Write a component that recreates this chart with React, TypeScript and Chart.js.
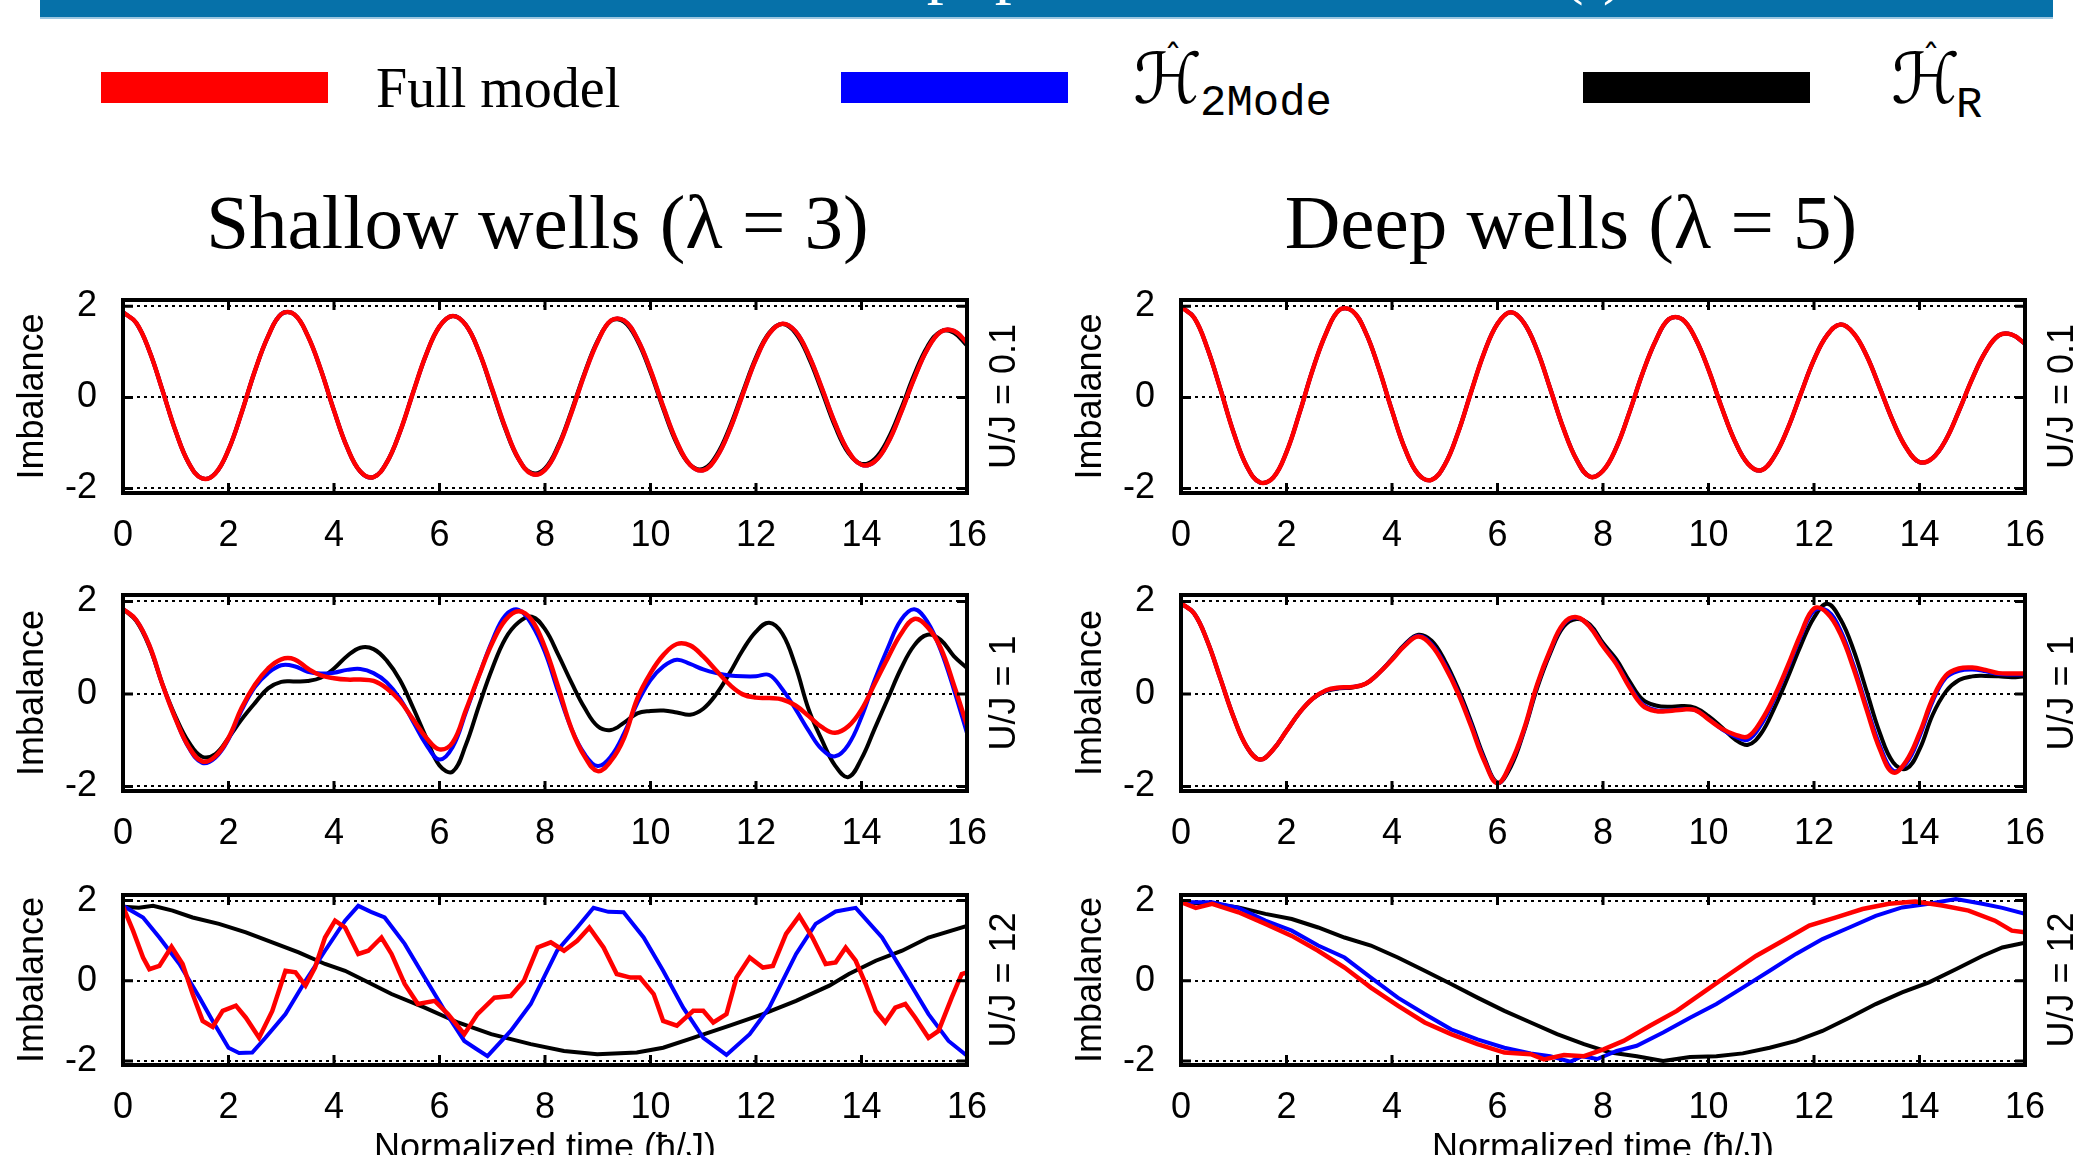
import React, { useEffect, useRef } from 'react';
import { Chart, registerables } from 'chart.js';
Chart.register(...registerables);
Chart.defaults.font.family = "'Liberation Sans', Arial, sans-serif";

// ---------- data ----------
const timeGrid = [0, 0.25, 0.5, 0.75, 1, 1.25, 1.5, 1.75, 2, 2.25, 2.5, 2.75, 3, 3.25, 3.5, 3.75, 4, 4.25, 4.5, 4.75, 5, 5.25, 5.5, 5.75, 6, 6.25, 6.5, 6.75, 7, 7.25, 7.5, 7.75, 8, 8.25, 8.5, 8.75, 9, 9.25, 9.5, 9.75, 10, 10.25, 10.5, 10.75, 11, 11.25, 11.5, 11.75, 12, 12.25, 12.5, 12.75, 13, 13.25, 13.5, 13.75, 14, 14.25, 14.5, 14.75, 15, 15.25, 15.5, 15.75, 16];
const xTickValues = [0, 2, 4, 6, 8, 10, 12, 14, 16];
const yTickValues = [-2, 0, 2];

const seriesNames = ['Full model', 'H2Mode', 'HR'];
const seriesColors = ['#ff0000', '#0000ff', '#000000'];

// Shallow wells, U/J = 0.1
const shallow01Full = [1.87, 1.64, 1.02, 0.15, -0.75, -1.45, -1.78, -1.67, -1.15, -0.33, 0.58, 1.34, 1.83, 1.82, 1.36, 0.61, -0.29, -1.10, -1.63, -1.75, -1.43, -0.76, 0.11, 0.95, 1.56, 1.79, 1.59, 1.00, 0.18, -0.67, -1.35, -1.68, -1.59, -1.10, -0.34, 0.51, 1.23, 1.69, 1.69, 1.29, 0.60, -0.23, -0.98, -1.48, -1.60, -1.32, -0.72, 0.07, 0.84, 1.40, 1.62, 1.45, 0.93, 0.20, -0.57, -1.18, -1.48, -1.41, -1.00, -0.33, 0.42, 1.06, 1.44, 1.46, 1.20];
const shallow01TwoMode = [1.87, 1.64, 1.02, 0.15, -0.75, -1.45, -1.78, -1.67, -1.15, -0.33, 0.58, 1.34, 1.83, 1.82, 1.36, 0.61, -0.29, -1.10, -1.63, -1.75, -1.43, -0.76, 0.11, 0.95, 1.56, 1.79, 1.59, 1.00, 0.18, -0.67, -1.35, -1.68, -1.59, -1.10, -0.34, 0.51, 1.23, 1.69, 1.69, 1.29, 0.60, -0.23, -0.98, -1.48, -1.60, -1.32, -0.72, 0.07, 0.84, 1.40, 1.62, 1.45, 0.93, 0.20, -0.57, -1.18, -1.48, -1.41, -1.00, -0.33, 0.42, 1.06, 1.44, 1.46, 1.20];
const shallow01R = [1.87, 1.64, 1.02, 0.15, -0.75, -1.45, -1.78, -1.67, -1.15, -0.33, 0.58, 1.34, 1.83, 1.82, 1.36, 0.61, -0.29, -1.10, -1.63, -1.75, -1.43, -0.76, 0.11, 0.95, 1.56, 1.79, 1.59, 1.00, 0.15, -0.70, -1.36, -1.66, -1.56, -1.06, -0.30, 0.54, 1.25, 1.68, 1.66, 1.25, 0.55, -0.28, -1.02, -1.48, -1.57, -1.27, -0.66, 0.12, 0.88, 1.42, 1.61, 1.41, 0.87, 0.13, -0.64, -1.22, -1.46, -1.35, -0.92, -0.25, 0.50, 1.12, 1.45, 1.42, 1.14];

// Deep wells, U/J = 0.1
const deep01Full = [1.99, 1.75, 1.08, 0.17, -0.78, -1.52, -1.87, -1.76, -1.20, -0.33, 0.62, 1.41, 1.92, 1.90, 1.43, 0.64, -0.29, -1.14, -1.69, -1.81, -1.48, -0.78, 0.12, 0.99, 1.62, 1.87, 1.64, 1.04, 0.19, -0.68, -1.37, -1.74, -1.61, -1.11, -0.33, 0.53, 1.25, 1.72, 1.72, 1.30, 0.61, -0.22, -0.96, -1.46, -1.60, -1.29, -0.69, 0.08, 0.83, 1.37, 1.60, 1.41, 0.91, 0.20, -0.53, -1.11, -1.42, -1.33, -0.93, -0.29, 0.41, 1.00, 1.36, 1.38, 1.18];
const deep01TwoMode = [1.99, 1.75, 1.08, 0.17, -0.78, -1.52, -1.87, -1.76, -1.20, -0.33, 0.62, 1.41, 1.92, 1.90, 1.43, 0.64, -0.29, -1.14, -1.69, -1.81, -1.48, -0.78, 0.12, 0.99, 1.62, 1.87, 1.64, 1.04, 0.19, -0.68, -1.37, -1.74, -1.61, -1.11, -0.33, 0.53, 1.25, 1.72, 1.72, 1.30, 0.61, -0.22, -0.96, -1.46, -1.60, -1.29, -0.69, 0.08, 0.83, 1.37, 1.60, 1.41, 0.91, 0.20, -0.53, -1.11, -1.42, -1.33, -0.93, -0.29, 0.41, 1.00, 1.36, 1.38, 1.18];
const deep01R = [1.99, 1.75, 1.08, 0.17, -0.78, -1.52, -1.87, -1.76, -1.20, -0.33, 0.62, 1.41, 1.92, 1.90, 1.43, 0.64, -0.29, -1.14, -1.69, -1.81, -1.48, -0.78, 0.12, 0.99, 1.62, 1.87, 1.64, 1.04, 0.19, -0.68, -1.37, -1.74, -1.61, -1.11, -0.33, 0.53, 1.25, 1.72, 1.72, 1.30, 0.61, -0.22, -0.96, -1.46, -1.60, -1.29, -0.69, 0.08, 0.83, 1.37, 1.60, 1.41, 0.91, 0.20, -0.53, -1.11, -1.42, -1.33, -0.93, -0.29, 0.41, 1.00, 1.36, 1.38, 1.18];

// Shallow wells, U/J = 1
const shallow1Full = [1.84, 1.60, 1.05, 0.20, -0.55, -1.15, -1.46, -1.35, -0.95, -0.30, 0.20, 0.55, 0.75, 0.75, 0.55, 0.40, 0.34, 0.31, 0.31, 0.28, 0.12, -0.15, -0.55, -0.95, -1.20, -1.05, -0.35, 0.40, 1.10, 1.60, 1.79, 1.60, 1.00, 0.15, -0.75, -1.35, -1.67, -1.45, -0.95, -0.10, 0.45, 0.85, 1.08, 1.05, 0.81, 0.50, 0.20, -0.01, -0.08, -0.09, -0.12, -0.25, -0.48, -0.72, -0.84, -0.70, -0.34, 0.22, 0.78, 1.30, 1.62, 1.45, 1.00, 0.20, -0.68];
const shallow1TwoMode = [1.84, 1.60, 1.05, 0.20, -0.55, -1.17, -1.49, -1.38, -0.98, -0.35, 0.15, 0.45, 0.62, 0.60, 0.48, 0.44, 0.46, 0.52, 0.54, 0.45, 0.25, -0.10, -0.60, -1.10, -1.42, -1.15, -0.40, 0.40, 1.15, 1.70, 1.82, 1.50, 0.90, 0.05, -0.75, -1.30, -1.56, -1.35, -0.85, -0.20, 0.30, 0.60, 0.74, 0.65, 0.53, 0.45, 0.40, 0.38, 0.38, 0.41, 0.10, -0.33, -0.80, -1.20, -1.35, -1.10, -0.50, 0.30, 1.00, 1.60, 1.83, 1.56, 0.95, 0.10, -0.85];
const shallow1R = [1.84, 1.58, 1.02, 0.20, -0.50, -1.05, -1.36, -1.30, -0.95, -0.55, -0.20, 0.12, 0.26, 0.27, 0.28, 0.35, 0.55, 0.82, 1.00, 0.97, 0.72, 0.30, -0.30, -0.95, -1.55, -1.68, -1.10, -0.25, 0.55, 1.20, 1.55, 1.67, 1.40, 0.85, 0.25, -0.30, -0.70, -0.78, -0.62, -0.42, -0.37, -0.36, -0.40, -0.45, -0.32, 0.00, 0.45, 0.95, 1.35, 1.54, 1.30, 0.60, -0.34, -1.00, -1.55, -1.80, -1.40, -0.75, -0.10, 0.55, 1.05, 1.28, 1.17, 0.82, 0.56];

// Deep wells, U/J = 1
const deep1Full = [1.96, 1.74, 1.14, 0.32, -0.51, -1.15, -1.42, -1.20, -0.80, -0.40, -0.10, 0.08, 0.14, 0.15, 0.22, 0.45, 0.74, 1.05, 1.24, 1.05, 0.60, 0.02, -0.70, -1.45, -1.93, -1.50, -0.77, 0.20, 0.95, 1.52, 1.66, 1.45, 1.03, 0.65, 0.15, -0.25, -0.37, -0.37, -0.34, -0.35, -0.55, -0.75, -0.88, -0.92, -0.58, -0.05, 0.60, 1.30, 1.85, 1.75, 1.30, 0.55, -0.35, -1.20, -1.70, -1.45, -0.85, -0.10, 0.40, 0.55, 0.57, 0.52, 0.45, 0.44, 0.44];
const deep1TwoMode = [1.96, 1.74, 1.14, 0.32, -0.51, -1.15, -1.42, -1.20, -0.80, -0.40, -0.10, 0.07, 0.13, 0.15, 0.22, 0.45, 0.75, 1.06, 1.26, 1.08, 0.64, 0.05, -0.66, -1.42, -1.93, -1.52, -0.79, 0.18, 0.93, 1.50, 1.65, 1.46, 1.05, 0.67, 0.18, -0.22, -0.35, -0.36, -0.33, -0.35, -0.54, -0.76, -0.92, -0.99, -0.66, -0.10, 0.55, 1.25, 1.80, 1.80, 1.38, 0.62, -0.28, -1.12, -1.66, -1.50, -0.92, -0.16, 0.35, 0.50, 0.53, 0.49, 0.43, 0.42, 0.42];
const deep1R = [1.96, 1.74, 1.14, 0.32, -0.51, -1.15, -1.42, -1.20, -0.80, -0.40, -0.10, 0.06, 0.12, 0.14, 0.22, 0.45, 0.76, 1.08, 1.28, 1.15, 0.72, 0.12, -0.60, -1.38, -1.92, -1.58, -0.82, 0.12, 0.88, 1.45, 1.62, 1.50, 1.10, 0.75, 0.28, -0.12, -0.25, -0.28, -0.26, -0.30, -0.48, -0.72, -0.98, -1.10, -0.85, -0.30, 0.35, 1.05, 1.65, 1.95, 1.62, 0.95, 0.05, -0.85, -1.48, -1.62, -1.20, -0.45, 0.05, 0.30, 0.38, 0.39, 0.38, 0.36, 0.38];

// Shallow wells, U/J = 12  ([time, imbalance])
const shallow12Full: [number, number][] = [[0, 1.85], [0.19, 1.25], [0.38, 0.58], [0.5, 0.29], [0.69, 0.37], [0.92, 0.85], [1.13, 0.42], [1.32, -0.33], [1.51, -1.0], [1.7, -1.15], [1.89, -0.75], [2.14, -0.62], [2.33, -0.92], [2.58, -1.42], [2.83, -0.75], [3.08, 0.25], [3.27, 0.21], [3.46, -0.12], [3.64, 0.33], [3.83, 1.08], [4.02, 1.5], [4.21, 1.33], [4.46, 0.67], [4.65, 0.75], [4.9, 1.08], [5.09, 0.67], [5.34, -0.08], [5.59, -0.58], [5.91, -0.5], [6.16, -0.83], [6.47, -1.33], [6.72, -0.83], [7.04, -0.42], [7.35, -0.38], [7.6, 0.0], [7.86, 0.83], [8.11, 0.96], [8.36, 0.75], [8.61, 1.0], [8.84, 1.33], [9.11, 0.83], [9.36, 0.17], [9.62, 0.08], [9.8, 0.08], [10.06, -0.33], [10.24, -1.0], [10.5, -1.12], [10.81, -0.75], [11.0, -0.75], [11.19, -1.04], [11.44, -0.83], [11.63, 0.08], [11.88, 0.58], [12.13, 0.33], [12.32, 0.37], [12.57, 1.17], [12.82, 1.62], [13.07, 1.08], [13.32, 0.42], [13.51, 0.46], [13.7, 0.83], [13.89, 0.5], [14.08, -0.08], [14.27, -0.75], [14.45, -1.04], [14.64, -0.67], [14.83, -0.58], [15.02, -0.92], [15.27, -1.42], [15.46, -1.25], [15.71, -0.42], [15.9, 0.17], [16, 0.21]];
const shallow12TwoMode: [number, number][] = [[0, 1.87], [0.38, 1.58], [0.69, 1.08], [1.07, 0.42], [1.45, -0.42], [1.7, -1.0], [2.0, -1.67], [2.2, -1.8], [2.45, -1.79], [2.7, -1.42], [3.08, -0.83], [3.46, 0.0], [3.83, 0.75], [4.21, 1.5], [4.46, 1.87], [4.7, 1.72], [4.96, 1.58], [5.34, 0.92], [5.72, 0.08], [6.1, -0.75], [6.47, -1.5], [6.7, -1.7], [6.91, -1.88], [7.35, -1.25], [7.73, -0.58], [8.23, 0.75], [8.61, 1.33], [8.92, 1.82], [9.2, 1.72], [9.49, 1.71], [9.87, 1.08], [10.24, 0.25], [10.62, -0.67], [11.0, -1.42], [11.44, -1.85], [11.88, -1.33], [12.25, -0.67], [12.76, 0.67], [13.13, 1.42], [13.51, 1.73], [13.89, 1.82], [14.39, 1.08], [14.89, 0.0], [15.27, -0.83], [15.65, -1.5], [16, -1.87]];
const shallow12R: [number, number][] = [[0, 1.85], [0.3, 1.82], [0.57, 1.87], [0.94, 1.75], [1.32, 1.58], [1.82, 1.42], [2.33, 1.21], [2.83, 0.96], [3.33, 0.71], [3.83, 0.42], [4.21, 0.25], [4.59, 0.0], [5.09, -0.33], [5.72, -0.67], [6.35, -1.04], [6.98, -1.33], [7.73, -1.58], [8.36, -1.75], [8.99, -1.83], [9.74, -1.79], [10.24, -1.67], [10.75, -1.45], [11.5, -1.12], [12.13, -0.83], [12.76, -0.5], [13.39, -0.12], [13.76, 0.17], [14.27, 0.5], [14.77, 0.75], [15.27, 1.08], [16, 1.37]];

// Deep wells, U/J = 12  ([time, imbalance])
const deep12Full: [number, number][] = [[0, 1.96], [0.28, 1.82], [0.59, 1.92], [1.09, 1.71], [1.6, 1.42], [2.1, 1.12], [2.6, 0.75], [3.1, 0.33], [3.6, -0.17], [4.11, -0.62], [4.62, -1.04], [5.12, -1.33], [5.62, -1.58], [6.13, -1.79], [6.63, -1.83], [6.88, -1.96], [7.26, -1.85], [7.64, -1.88], [8.01, -1.71], [8.39, -1.5], [8.89, -1.12], [9.4, -0.75], [9.9, -0.29], [10.4, 0.17], [10.9, 0.62], [11.41, 1.0], [11.91, 1.38], [12.42, 1.58], [12.92, 1.79], [13.42, 1.92], [13.92, 1.98], [14.43, 1.88], [14.93, 1.75], [15.43, 1.5], [15.75, 1.25], [16, 1.21]];
const deep12TwoMode: [number, number][] = [[0, 1.96], [0.59, 1.96], [1.09, 1.82], [1.6, 1.5], [2.1, 1.25], [2.6, 0.88], [3.1, 0.58], [3.6, 0.08], [4.11, -0.42], [4.62, -0.83], [5.12, -1.21], [5.62, -1.46], [6.13, -1.67], [6.63, -1.81], [7.0, -1.88], [7.38, -2.02], [7.6, -1.88], [7.89, -1.95], [8.26, -1.75], [8.64, -1.62], [9.14, -1.29], [9.65, -0.92], [10.15, -0.58], [10.65, -0.17], [11.16, 0.25], [11.66, 0.67], [12.16, 1.04], [12.67, 1.33], [13.17, 1.62], [13.67, 1.83], [14.18, 1.92], [14.69, 2.04], [15.19, 1.92], [15.57, 1.82], [16, 1.67]];
const deep12R: [number, number][] = [[0, 1.96], [0.59, 1.92], [1.09, 1.83], [1.6, 1.67], [2.1, 1.54], [2.6, 1.33], [3.1, 1.08], [3.6, 0.88], [4.11, 0.58], [4.62, 0.25], [5.12, -0.08], [5.62, -0.42], [6.13, -0.75], [6.63, -1.04], [7.13, -1.33], [7.64, -1.58], [8.14, -1.79], [8.64, -1.88], [9.14, -2.0], [9.65, -1.9], [10.15, -1.88], [10.65, -1.81], [11.16, -1.67], [11.66, -1.5], [12.16, -1.25], [12.67, -0.92], [13.17, -0.58], [13.67, -0.29], [14.18, -0.04], [14.69, 0.29], [15.19, 0.62], [15.57, 0.83], [16, 0.95]];

// ---------- helpers ----------
type Pt = [number, number];
const onGrid = (vals: number[]): Pt[] => vals.map((v, i) => [timeGrid[i], v]);

const framePlugin = {
  id: 'frame',
  beforeDatasetsDraw(chart: any) {
    const { ctx, chartArea: a, scales } = chart;
    ctx.save();
    ctx.strokeStyle = '#000';
    ctx.lineWidth = 2;
    ctx.setLineDash([3, 4]);
    for (const v of yTickValues) {
      const py = Math.round(scales.y.getPixelForValue(v));
      ctx.beginPath();
      ctx.moveTo(a.left, py);
      ctx.lineTo(a.right, py);
      ctx.stroke();
    }
    ctx.restore();
  },
  afterDatasetsDraw(chart: any, _args: any, opts: any) {
    const { ctx, chartArea: a, scales } = chart;
    ctx.save();
    ctx.strokeStyle = '#000';
    ctx.setLineDash([]);
    ctx.lineWidth = 3;
    for (const v of xTickValues) {
      const px = scales.x.getPixelForValue(v);
      ctx.beginPath();
      ctx.moveTo(px, a.top);
      ctx.lineTo(px, a.top + 10);
      ctx.moveTo(px, a.bottom);
      ctx.lineTo(px, a.bottom - 10);
      ctx.stroke();
    }
    for (const v of yTickValues) {
      const py = scales.y.getPixelForValue(v);
      ctx.beginPath();
      ctx.moveTo(a.left, py);
      ctx.lineTo(a.left + 10, py);
      ctx.moveTo(a.right, py);
      ctx.lineTo(a.right - 10, py);
      ctx.stroke();
    }
    ctx.lineWidth = 4;
    ctx.strokeRect(a.left, a.top, a.right - a.left, a.bottom - a.top);
    if (opts && opts.label) {
      ctx.translate(a.right + 38, (a.top + a.bottom) / 2);
      ctx.rotate(-Math.PI / 2);
      ctx.fillStyle = '#000';
      ctx.font = "36px 'Liberation Sans', Arial, sans-serif";
      ctx.textAlign = 'center';
      ctx.textBaseline = 'middle';
      ctx.fillText(opts.label, 0, 0);
    }
    ctx.restore();
  },
};

interface PanelProps {
  left: number; top: number; width: number; height: number;
  padRight: number; yAxisWidth: number; xAxisHeight: number; yTitlePad: number;
  label: string; series: Pt[][]; smooth: boolean; xTitle: boolean;
}

const PAD_TOP = 50;

function Panel(p: PanelProps) {
  const ref = useRef<HTMLCanvasElement>(null);
  useEffect(() => {
    const chart = new Chart(ref.current as HTMLCanvasElement, {
      type: 'line',
      data: {
        datasets: p.series.map((pts, i) => ({
          label: seriesNames[i],
          data: pts.map(([x, y]) => ({ x, y })),
          borderColor: seriesColors[i],
          borderWidth: i === 0 ? 4.5 : 4,
          pointRadius: 0,
          fill: false,
          tension: p.smooth ? 0.4 : 0,
        })),
      },
      options: {
        animation: false,
        responsive: false,
        maintainAspectRatio: false,
        layout: { padding: { top: PAD_TOP, right: p.padRight, left: 0, bottom: 0 } },
        plugins: {
          legend: { display: false },
          tooltip: { enabled: false },
          frame: { label: p.label },
        } as any,
        scales: {
          x: {
            type: 'linear', min: 0, max: 16,
            grid: { display: false, drawTicks: false },
            border: { display: false },
            ticks: { stepSize: 2, autoSkip: false, maxRotation: 0, padding: 21, color: '#000', font: { size: 36 }, includeBounds: false },
            title: { display: p.xTitle, text: 'Normalized time (ħ/J)', color: '#000', font: { size: 36 }, padding: { top: 0, bottom: 4 } },
            afterFit: (s: any) => { s.height = p.xAxisHeight; s.paddingLeft = 0; s.paddingRight = 0; },
          },
          y: {
            type: 'linear', min: -2.1, max: 2.14,
            grid: { display: false, drawTicks: false },
            border: { display: false },
            ticks: { stepSize: 2, padding: 26, color: '#000', font: { size: 36 }, includeBounds: false },
            title: { display: true, text: 'Imbalance', color: '#000', font: { size: 36 }, padding: { top: p.yTitlePad, bottom: 0 } },
            afterFit: (s: any) => { s.width = p.yAxisWidth; s.paddingTop = 0; s.paddingBottom = 0; },
          },
        } as any,
      },
      plugins: [framePlugin as any],
    });
    return () => chart.destroy();
  }, []);
  return <canvas ref={ref} width={p.width} height={p.height} style={{ position: 'absolute', left: p.left, top: p.top, width: p.width, height: p.height }} />;
}

const abs = (s: React.CSSProperties): React.CSSProperties => ({ position: 'absolute', whiteSpace: 'nowrap', margin: 0, ...s });

export default function App() {
  const leftCol = { left: 0, width: 1040, padRight: 73, yAxisWidth: 123, yTitlePad: 11 };
  const rightCol = { left: 1040, width: 1041, padRight: 56, yAxisWidth: 141, yTitlePad: 29 };
  // chart areas: top 300-493, middle 595-791, bottom 895-1065
  const rowTop = { top: 300 - PAD_TOP, height: 493 - (300 - PAD_TOP) + 64, xAxisHeight: 64, xTitle: false };
  const rowMid = { top: 595 - PAD_TOP, height: 791 - (595 - PAD_TOP) + 64, xAxisHeight: 64, xTitle: false };
  const rowBot = { top: 895 - PAD_TOP, height: 1065 - (895 - PAD_TOP) + 110, xAxisHeight: 110, xTitle: true };
  const serif = "'Liberation Serif', 'Times New Roman', serif";
  return (
    <div style={{ position: 'fixed', left: 0, top: 0, width: 2081, height: 1155, overflow: 'hidden', background: '#fff' }}>
      <div style={abs({ left: 40, top: 0, width: 2013, height: 17, background: '#0671a9', overflow: 'hidden' })}>
        <div style={abs({ left: 0, top: -66, width: 2013, textAlign: 'center', color: '#fff', fontFamily: serif, fontSize: 68, lineHeight: '68px' })}>
          Evolution of the population imbalance z(t)
        </div>
      </div>
      <div style={abs({ left: 40, top: 17, width: 2013, height: 2, background: '#9cc6e0' })} />

      {/* legend */}
      <div style={abs({ left: 101, top: 72, width: 227, height: 31, background: '#ff0000' })} />
      <div style={abs({ left: 376, top: 60, fontFamily: serif, fontSize: 56, lineHeight: '56px', color: '#000' })}>Full model</div>
      <div style={abs({ left: 841, top: 72, width: 227, height: 31, background: '#0000ff' })} />
      <div style={abs({ left: 1133, top: 44, fontFamily: "'DejaVu Sans', sans-serif", fontSize: 70, lineHeight: '70px', color: '#000' })}>ℋ</div>
      <div style={abs({ left: 1164, top: 40, fontFamily: "'DejaVu Sans', sans-serif", fontSize: 36, lineHeight: '36px', color: '#000' })}>ˆ</div>
      <div style={abs({ left: 1200, top: 81, fontFamily: "'Liberation Mono', monospace", fontSize: 44, lineHeight: '44px', color: '#000' })}>2Mode</div>
      <div style={abs({ left: 1583, top: 72, width: 227, height: 31, background: '#000000' })} />
      <div style={abs({ left: 1891, top: 44, fontFamily: "'DejaVu Sans', sans-serif", fontSize: 70, lineHeight: '70px', color: '#000' })}>ℋ</div>
      <div style={abs({ left: 1922, top: 40, fontFamily: "'DejaVu Sans', sans-serif", fontSize: 36, lineHeight: '36px', color: '#000' })}>ˆ</div>
      <div style={abs({ left: 1956, top: 83, fontFamily: "'Liberation Mono', monospace", fontSize: 44, lineHeight: '44px', color: '#000' })}>R</div>

      {/* column titles */}
      <div style={abs({ left: 0, top: 184, width: 1075, textAlign: 'center', fontFamily: serif, fontSize: 77, lineHeight: '77px', color: '#000' })}>Shallow wells (λ = 3)</div>
      <div style={abs({ left: 1071, top: 184, width: 1000, textAlign: 'center', fontFamily: serif, fontSize: 77, lineHeight: '77px', color: '#000' })}>Deep wells (λ = 5)</div>

      <Panel {...leftCol} {...rowTop} label="U/J = 0.1" smooth series={[onGrid(shallow01Full), onGrid(shallow01TwoMode), onGrid(shallow01R)]} />
      <Panel {...rightCol} {...rowTop} label="U/J = 0.1" smooth series={[onGrid(deep01Full), onGrid(deep01TwoMode), onGrid(deep01R)]} />
      <Panel {...leftCol} {...rowMid} label="U/J = 1" smooth series={[onGrid(shallow1Full), onGrid(shallow1TwoMode), onGrid(shallow1R)]} />
      <Panel {...rightCol} {...rowMid} label="U/J = 1" smooth series={[onGrid(deep1Full), onGrid(deep1TwoMode), onGrid(deep1R)]} />
      <Panel {...leftCol} {...rowBot} label="U/J = 12" smooth={false} series={[shallow12Full, shallow12TwoMode, shallow12R]} />
      <Panel {...rightCol} {...rowBot} label="U/J = 12" smooth={false} series={[deep12Full, deep12TwoMode, deep12R]} />
    </div>
  );
}
